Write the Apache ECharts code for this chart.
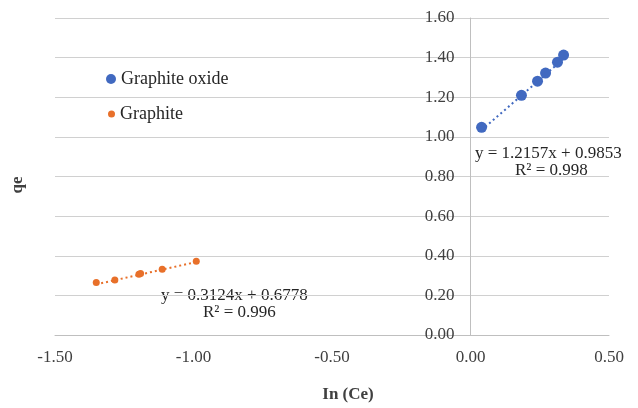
<!DOCTYPE html>
<html>
<head>
<meta charset="utf-8">
<script src="https://cdn.jsdelivr.net/npm/echarts@6/dist/echarts.min.js"></script>
<style>
  html, body { margin: 0; padding: 0; background: #ffffff; }
  #chart { width: 638px; height: 408px; }
</style>
</head>
<body>
<div id="chart"></div>
<script>
// Freundlich-type plot: ln(Ce) vs qe for the two adsorbents
var oxideLnCe = [0.040, 0.184, 0.242, 0.271, 0.314, 0.336];
var oxideQe   = [1.048, 1.210, 1.281, 1.322, 1.377, 1.413];
var graphiteLnCe = [-1.351, -1.284, -1.197, -1.191, -1.113, -0.990];
var graphiteQe   = [0.265, 0.278, 0.307, 0.311, 0.332, 0.372];

// Linear fits (slope, intercept, R²)
var oxideFit = [1.2157, 0.9853, 0.998];
var graphiteFit = [0.3124, 0.6778, 0.996];

var xTicks = [-1.5, -1.0, -0.5, 0.0, 0.5];
var yTicks = [0, 0.2, 0.4, 0.6, 0.8, 1.0, 1.2, 1.4, 1.6];

var BLUE = '#4169C0';
var ORANGE = '#E8702A';
var SERIF = '"Liberation Serif", "Times New Roman", serif';

var W = 638, GRID_LEFT = 55, GRID_RIGHT = 29;
var gridWidth = W - GRID_LEFT - GRID_RIGHT;
var xMin = xTicks[0], xMax = xTicks[xTicks.length - 1];
// shift the value axis inward so it crosses the category axis at x = 0
var yAxisShift = -gridWidth * (0 - xMin) / (xMax - xMin);

function pairs(xs, ys) {
  return xs.map(function (x, i) { return [x, ys[i]]; });
}
function fitLine(xs, fit) {
  var x0 = Math.min.apply(null, xs), x1 = Math.max.apply(null, xs);
  return [[x0, fit[0] * x0 + fit[1]], [x1, fit[0] * x1 + fit[1]]];
}
function eqText(fit) {
  return 'y = ' + fit[0].toFixed(4) + 'x + ' + fit[1].toFixed(4);
}

var chart = echarts.init(document.getElementById('chart'), null, { renderer: 'canvas' });

chart.setOption({
  animation: false,
  backgroundColor: '#ffffff',
  grid: { left: GRID_LEFT, right: GRID_RIGHT, top: 18, bottom: 73 },
  xAxis: {
    type: 'value',
    min: xMin,
    max: xMax,
    interval: 0.5,
    axisLine: { show: true, onZero: false, lineStyle: { color: '#bfbfbf', width: 1 } },
    axisTick: { show: false },
    splitLine: { show: false },
    axisLabel: {
      margin: 14,
      color: '#404040',
      fontFamily: SERIF,
      fontSize: 17,
      formatter: function (v) { return v.toFixed(2); }
    }
  },
  yAxis: {
    type: 'value',
    position: 'left',
    offset: yAxisShift,
    min: yTicks[0],
    max: yTicks[yTicks.length - 1],
    interval: 0.2,
    axisLine: { show: true, onZero: false, lineStyle: { color: '#bfbfbf', width: 1 } },
    axisTick: { show: false },
    splitLine: { show: true, lineStyle: { color: '#d0d0d0', width: 1 } },
    axisLabel: {
      margin: 16,
      color: '#404040',
      fontFamily: SERIF,
      fontSize: 17,
      formatter: function (v) { return v.toFixed(2); }
    }
  },
  legend: [
    {
      data: ['Graphite oxide'],
      left: 101, top: 65,
      icon: 'circle', itemWidth: 10, itemHeight: 10,
      textStyle: { color: '#262626', fontFamily: SERIF, fontSize: 18 }
    },
    {
      data: ['Graphite'],
      left: 103, top: 100,
      icon: 'circle', itemWidth: 7, itemHeight: 7,
      textStyle: { color: '#262626', fontFamily: SERIF, fontSize: 18 }
    }
  ],
  series: [
    {
      name: 'Graphite oxide fit',
      type: 'line',
      data: fitLine(oxideLnCe, oxideFit),
      symbol: 'none',
      lineStyle: { color: BLUE, width: 2, type: [2, 3] },
      z: 2
    },
    {
      name: 'Graphite fit',
      type: 'line',
      data: fitLine(graphiteLnCe, graphiteFit),
      symbol: 'none',
      lineStyle: { color: ORANGE, width: 2, type: [2, 3] },
      z: 2
    },
    {
      name: 'Graphite oxide',
      type: 'scatter',
      data: pairs(oxideLnCe, oxideQe),
      symbol: 'circle',
      symbolSize: 11,
      itemStyle: { color: BLUE, opacity: 1 },
      z: 3
    },
    {
      name: 'Graphite',
      type: 'scatter',
      data: pairs(graphiteLnCe, graphiteQe),
      symbol: 'circle',
      symbolSize: 7,
      itemStyle: { color: ORANGE, opacity: 1 },
      z: 3
    }
  ],
  graphic: [
    {
      type: 'text', left: 475, top: 145,
      style: { text: eqText(oxideFit), fill: '#262626', font: '17px ' + SERIF }
    },
    {
      type: 'text', left: 515, top: 162,
      style: { text: 'R² = ' + oxideFit[2].toFixed(3), fill: '#262626', font: '17px ' + SERIF }
    },
    {
      type: 'text', left: 161, top: 287,
      style: { text: eqText(graphiteFit), fill: '#262626', font: '17px ' + SERIF }
    },
    {
      type: 'text', left: 203, top: 304,
      style: { text: 'R² = ' + graphiteFit[2].toFixed(3), fill: '#262626', font: '17px ' + SERIF }
    },
    {
      type: 'text', x: 348, y: 395,
      style: { text: 'In (Ce)', fill: '#404040', font: 'bold 17px ' + SERIF, align: 'center', verticalAlign: 'middle' }
    },
    {
      type: 'text', x: 18, y: 185, rotation: Math.PI / 2,
      style: { text: 'qe', fill: '#404040', font: 'bold 17px ' + SERIF, align: 'center', verticalAlign: 'middle' }
    }
  ]
});
</script>
</body>
</html>
